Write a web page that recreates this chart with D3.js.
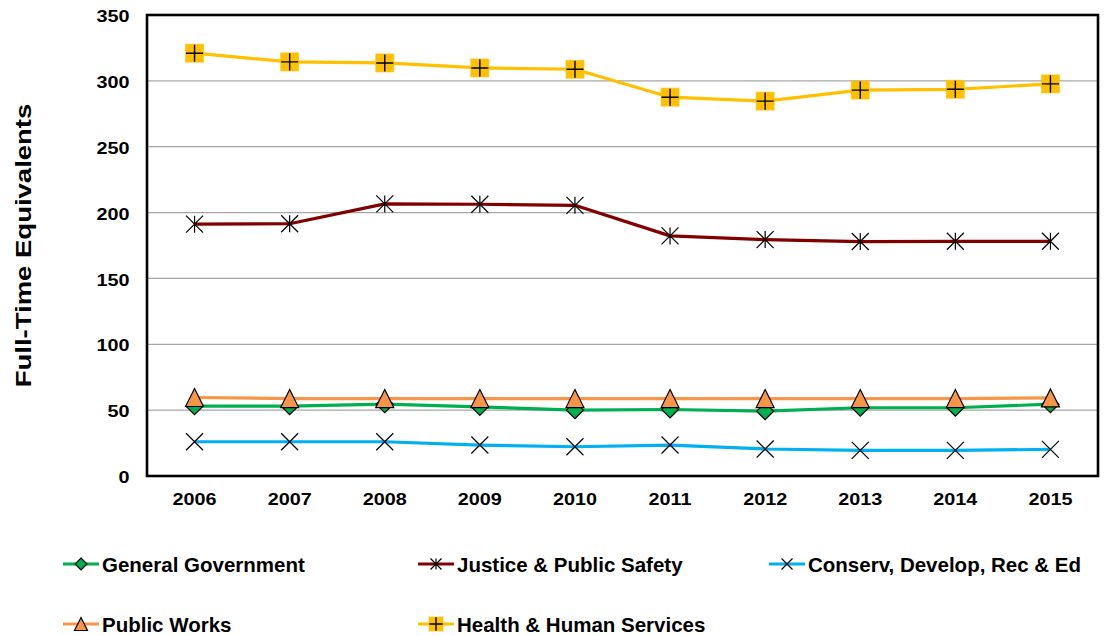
<!DOCTYPE html>
<html>
<head>
<meta charset="utf-8">
<script src="https://cdn.jsdelivr.net/npm/d3@7"></script>
<style>
  html, body { margin: 0; padding: 0; background: #fff; }
  svg { display: block; font-family: "Liberation Sans", Arial, sans-serif; font-weight: bold; }
</style>
</head>
<body>
<svg id="chart" width="1104" height="636"></svg>
<script>
const years = ["2006","2007","2008","2009","2010","2011","2012","2013","2014","2015"];
const yTicks = [0, 50, 100, 150, 200, 250, 300, 350];
const seriesNames = ["General Government", "Justice & Public Safety", "Conserv, Develop, Rec & Ed", "Public Works", "Health & Human Services"];
const generalGovernment = [53, 53, 54.5, 52.5, 50, 50.5, 49.2, 51.8, 51.8, 54.5];
const justicePublicSafety = [191.2, 191.5, 206.6, 206.3, 205.5, 182.3, 179.5, 178, 178.2, 178.2];
const conservDevelop = [26, 26, 26, 23.5, 22.2, 23.5, 20.5, 19.5, 19.5, 20.2];
const publicWorks = [59.6, 58.8, 58.8, 58.8, 58.8, 58.8, 58.8, 58.8, 58.8, 59.3];
const healthHuman = [321, 314.4, 313.6, 309.8, 308.8, 287.6, 284.6, 293, 293.6, 297.7];

const colors = ["#00B050", "#800000", "#00B0F0", "#F79646", "#FFC000"];
const markerTypes = ["diamond", "asterisk", "x", "triangle", "square"];
const seriesValues = [generalGovernment, justicePublicSafety, conservDevelop, publicWorks, healthHuman];

const svg = d3.select("#chart");
const mLeft = 147, mRight = 1098, mTop = 15, mBottom = 476;

const x = d3.scaleBand().domain(years).range([mLeft, mRight]).padding(0);
const cx = d => x(d) + x.bandwidth() / 2;
const y = d3.scaleLinear().domain([0, 350]).range([mBottom, mTop]);

// gridlines
svg.append("g").selectAll("line").data(yTicks.filter(t => t > 0 && t < 350)).join("line")
  .attr("x1", mLeft).attr("x2", mRight)
  .attr("y1", d => y(d)).attr("y2", d => y(d))
  .attr("stroke", "#A6A6A6").attr("stroke-width", 1.2);

// Y axis labels
const yAxis = svg.append("g").attr("transform", `translate(${mLeft},0)`)
  .call(d3.axisLeft(y).tickValues(yTicks).tickSize(0).tickFormat(d3.format("d")));
yAxis.select(".domain").remove();
yAxis.selectAll("text")
  .attr("font-family", "'Liberation Sans', Arial, sans-serif")
  .attr("font-weight", "bold").attr("font-size", 16.5).attr("fill", "#000")
  .attr("x", -17.5 / 1.2).attr("dy", "0.4em")
  .attr("transform", "scale(1.2,1)");

// X axis labels
const xAxis = svg.append("g").attr("transform", `translate(0,${mBottom})`)
  .call(d3.axisBottom(x).tickSize(0));
xAxis.select(".domain").remove();
xAxis.selectAll("text")
  .attr("font-family", "'Liberation Sans', Arial, sans-serif")
  .attr("font-weight", "bold").attr("font-size", 16.5).attr("fill", "#000")
  .attr("y", 29).attr("dy", 0)
  .attr("transform", "scale(1.2,1)");

// Y title
svg.append("text")
  .attr("transform", `translate(31,245.5) rotate(-90) scale(1.25,1)`)
  .attr("text-anchor", "middle")
  .attr("font-size", 22).attr("fill", "#000")
  .text("Full-Time Equivalents");

function drawMarker(g, type, px, py, s, fill) {
  const h = s / 2;
  if (type === "diamond") {
    g.append("path").attr("d", `M${px},${py - h}L${px + h},${py}L${px},${py + h}L${px - h},${py}Z`)
      .attr("fill", fill).attr("stroke", "#000").attr("stroke-width", 1.2);
  } else if (type === "triangle") {
    g.append("path").attr("d", `M${px},${py - h}L${px + h},${py + h}L${px - h},${py + h}Z`)
      .attr("fill", fill).attr("stroke", "#000").attr("stroke-width", 1.2);
  } else if (type === "square") {
    g.append("rect").attr("x", px - h).attr("y", py - h).attr("width", s).attr("height", s)
      .attr("fill", fill).attr("stroke", fill).attr("stroke-opacity", 0.6).attr("stroke-width", 1);
    const a = h * 0.95;
    g.append("path").attr("d", `M${px - a},${py}L${px + a},${py}M${px},${py - a}L${px},${py + a}`)
      .attr("stroke", "#000").attr("stroke-width", 1.4);
  } else if (type === "x") {
    g.append("path").attr("d", `M${px - h},${py - h}L${px + h},${py + h}M${px + h},${py - h}L${px - h},${py + h}`)
      .attr("stroke", "#000").attr("stroke-width", 1.2);
  } else if (type === "asterisk") {
    g.append("path").attr("d", `M${px - h},${py - h}L${px + h},${py + h}M${px + h},${py - h}L${px - h},${py + h}M${px},${py - h}L${px},${py + h}`)
      .attr("stroke", "#000").attr("stroke-width", 1.2);
  }
}

const markerSizes = [17, 17, 17, 18, 18];
const line = d3.line().x((d, i) => cx(years[i])).y(d => y(d));

seriesValues.forEach((vals, si) => {
  const g = svg.append("g");
  g.append("path").datum(vals).attr("d", line)
    .attr("fill", "none").attr("stroke", colors[si]).attr("stroke-width", 3.2)
    .attr("stroke-linejoin", "round");
  vals.forEach((v, i) => drawMarker(g, markerTypes[si], cx(years[i]), y(v), markerSizes[si], colors[si]));
});

// plot border
svg.append("rect").attr("x", mLeft).attr("y", mTop).attr("width", mRight - mLeft).attr("height", mBottom - mTop)
  .attr("fill", "none").attr("stroke", "#000").attr("stroke-width", 2.6);

// legend
const legendPos = [
  {lx: 63, ly: 564}, {lx: 418, ly: 564}, {lx: 769, ly: 564},
  {lx: 63, ly: 624}, {lx: 418, ly: 624}
];
const legendMarkerSizes = [12, 11, 11, 13, 14];
const lg = svg.append("g");
seriesNames.forEach((name, si) => {
  const p = legendPos[si];
  const g = lg.append("g");
  g.append("line").attr("x1", p.lx).attr("x2", p.lx + 36).attr("y1", p.ly).attr("y2", p.ly)
    .attr("stroke", colors[si]).attr("stroke-width", 3.2);
  drawMarker(g, markerTypes[si], p.lx + 18, p.ly, legendMarkerSizes[si], colors[si]);
  g.append("text").attr("x", p.lx + 39).attr("y", p.ly + 8)
    .attr("font-size", 20.5).attr("fill", "#000").text(name);
});
</script>
</body>
</html>
